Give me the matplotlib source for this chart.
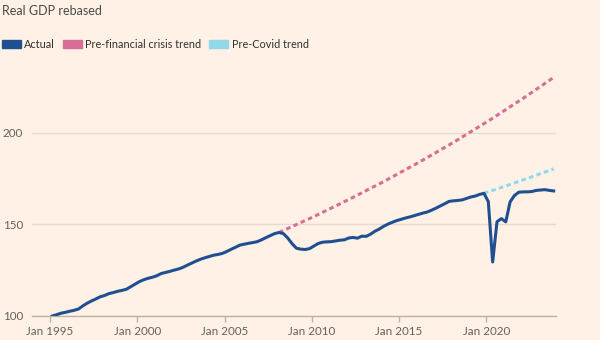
import pandas as pd
import matplotlib.pyplot as plt
import matplotlib.dates as mdates
from matplotlib.patches import Patch

plt.rcParams['font.family'] = ['Lato', 'DejaVu Sans']

# quarterly real GDP index, 1995Q1 = 100
gdp = [
    100.0, 100.7, 101.5, 102.0,   # 1995
    102.6, 103.1, 103.8, 105.5,   # 1996
    107.0, 108.2, 109.3, 110.5,   # 1997
    111.2, 112.2, 112.8, 113.5,   # 1998
    114.0, 114.6, 116.0, 117.4,   # 1999
    118.8, 119.8, 120.6, 121.2,   # 2000
    122.0, 123.2, 123.8, 124.4,   # 2001
    125.1, 125.7, 126.6, 127.8,   # 2002
    128.9, 130.0, 131.0, 131.8,   # 2003
    132.5, 133.2, 133.6, 134.2,   # 2004
    135.2, 136.4, 137.5, 138.7,   # 2005
    139.2, 139.7, 140.1, 140.6,   # 2006
    141.6, 142.8, 143.9, 145.0,   # 2007
    145.6, 145.0, 142.6, 139.5,   # 2008
    137.0, 136.5, 136.3, 136.8,   # 2009
    138.2, 139.6, 140.3, 140.5,   # 2010
    140.6, 141.0, 141.4, 141.6,   # 2011
    142.6, 142.9, 142.5, 143.6,   # 2012
    143.5, 144.7, 146.3, 147.5,   # 2013
    149.0, 150.2, 151.2, 152.1,   # 2014
    152.8, 153.5, 154.1, 154.8,   # 2015
    155.5, 156.2, 156.8, 157.8,   # 2016
    158.9, 160.1, 161.3, 162.6,   # 2017
    162.9, 163.1, 163.4, 164.2,   # 2018
    165.0, 165.5, 166.4, 167.0,   # 2019
    162.5, 129.5, 151.5, 153.2,   # 2020
    151.4, 162.3, 165.8, 167.6,   # 2021
    167.8, 167.8, 168.0, 168.6,   # 2022
    168.8, 169.0, 168.6, 168.3,   # 2023
]
quarters = pd.period_range('1995Q1', '2023Q4', freq='Q')

# trend projections
crisis_dates = ['2008-02-15', '2010-02-15', '2012-02-15', '2014-02-15', '2016-02-15',
                '2018-02-15', '2020-02-15', '2022-02-15', '2023-11-15']
crisis_trend = [145.6, 154.3, 163.6, 173.4, 183.8, 194.8, 206.5, 218.9, 230.3]

covid_dates = ['2019-11-15', '2020-11-15', '2021-11-15', '2022-11-15', '2023-11-15']
covid_trend = [167.0, 170.2, 173.5, 176.9, 180.3]

blue = '#204f91'
pink = '#d96e94'
cyan = '#91d9e6'
bg = '#fff1e5'

# plot each quarter at its midpoint
q_mid = quarters.start_time + (quarters.end_time - quarters.start_time) / 2

fig = plt.figure(figsize=(6, 3.4), dpi=100, facecolor=bg)
ax = fig.add_axes([0.0535, 0.0706, 0.873, 0.727])
ax.set_facecolor(bg)

ax.plot(pd.to_datetime(crisis_dates), crisis_trend, color=pink, lw=2.2,
        dashes=(1.5, 1.1), zorder=2)
ax.plot(pd.to_datetime(covid_dates), covid_trend, color=cyan, lw=2.2,
        dashes=(1.5, 1.1), zorder=2)
ax.plot(q_mid, gdp, color=blue, lw=2.2, solid_joinstyle='round', zorder=3)

ax.set_xlim(pd.Timestamp('1993-12-20'), pd.Timestamp('2024-01-01'))
ax.set_ylim(100, 235)
ax.set_yticks([100, 150, 200])
ax.yaxis.grid(True, color='#e6dacf', lw=1)
ax.set_axisbelow(True)

ax.xaxis.set_major_locator(mdates.YearLocator(5))
ax.xaxis.set_major_formatter(mdates.DateFormatter('Jan %Y'))

for side in ['top', 'right', 'left']:
    ax.spines[side].set_visible(False)
ax.spines['bottom'].set_color('#bcb2a9')
ax.spines['bottom'].set_linewidth(1)

ax.tick_params(axis='x', length=4, width=1, color='#bcb2a9', pad=3,
               labelsize=8.4, labelcolor='#66605c')
ax.tick_params(axis='y', length=0, pad=6.5, labelsize=8.4, labelcolor='#66605c')

fig.text(0.004, 0.985, 'Real GDP rebased', fontsize=9, color='#4d4845',
         va='top', ha='left')

handles = [Patch(color=blue, label='Actual'),
           Patch(color=pink, label='Pre-financial crisis trend'),
           Patch(color=cyan, label='Pre-Covid trend')]
fig.legend(handles=handles, loc='upper left', bbox_to_anchor=(0.003, 0.885),
           ncol=3, frameon=False, fontsize=7.8, labelcolor='#33302e',
           handlelength=1.75, handleheight=0.75, handletextpad=0.3,
           columnspacing=0.75, borderpad=0, borderaxespad=0)

fig.savefig('out.png', dpi=100, facecolor=bg)
